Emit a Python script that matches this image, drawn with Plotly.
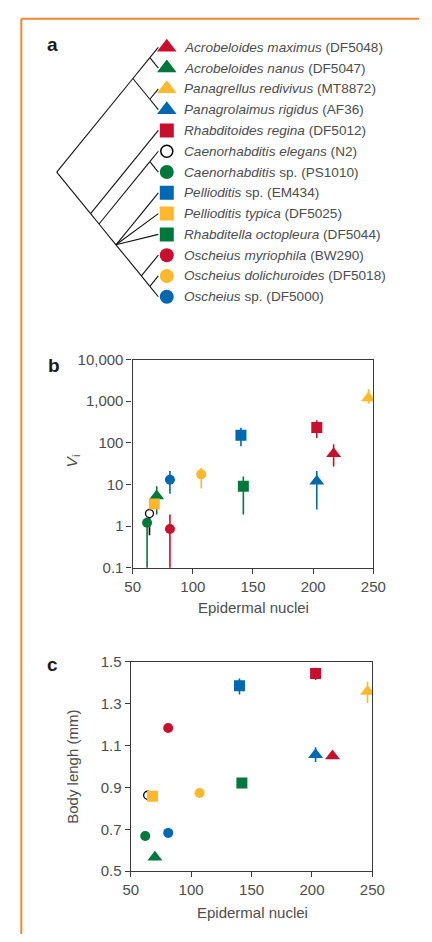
import plotly.graph_objects as go

# ---------------- data ----------------
names_italic = ["Acrobeloides maximus", "Acrobeloides nanus", "Panagrellus redivivus",
                "Panagrolaimus rigidus", "Rhabditoides regina", "Caenorhabditis elegans",
                "Caenorhabditis", "Pellioditis", "Pellioditis typica",
                "Rhabditella octopleura", "Oscheius myriophila", "Oscheius dolichuroides",
                "Oscheius"]
names_roman = ["", "", "", "", "", "", " sp.", " sp.", "", "", "", "", " sp."]
strains = ["DF5048", "DF5047", "MT8872", "AF36", "DF5012", "N2", "PS1010",
           "EM434", "DF5025", "DF5044", "BW290", "DF5018", "DF5000"]

# phylogeny (tip indices in the order listed above)
tree = (((0, 1), (2, 3)), (4, ((5, 6), (7, 8, 9, (10, (11, 12))))))

epidermal_nuclei = [217, 70, 246, 203, 203, 64, 62, 140, 68, 142, 81, 107, 81]

vi = [55, 5.3, 1200, 12, 235, 2.0, 1.2, 152, 3.4, 9, 0.85, 17.5, 13]
vi_hi = [93, 9.1, 1950, 21, 350, 2.6, 1.6, 230, 4.3, 15.5, 1.9, 25, 21]
vi_lo = [27, 1.9, 870, 2.5, 130, 0.6, 0.05, 83, 2.6, 1.9, 0.05, 8, 6]

body_length = [1.051, 0.566, 1.359, 1.057, 1.445, 0.863, 0.668, 1.387, 0.858,
               0.921, 1.184, 0.874, 0.683]
bl_hi = [1.060, 0.575, 1.406, 1.093, 1.472, 0.870, 0.675, 1.421, 0.878,
         0.930, 1.200, 0.882, 0.690]
bl_lo = [1.042, 0.557, 1.304, 1.022, 1.414, 0.856, 0.661, 1.345, 0.838,
         0.912, 1.168, 0.866, 0.676]

# ---------------- styles ----------------
RED, GREEN, YELLOW, BLUE = "#C8102E", "#00783C", "#FDB92B", "#0068B0"
colors = [RED, GREEN, YELLOW, BLUE, RED, "#000000", GREEN, BLUE, YELLOW, GREEN, RED, YELLOW, BLUE]
kinds = ["triangle", "triangle", "triangle", "triangle", "square", "open", "circle",
         "square", "square", "square", "circle", "circle", "circle"]
SYM = {"triangle": "triangle-up", "square": "square", "circle": "circle", "open": "circle"}
SIZE_A = {"triangle": 17, "square": 14, "circle": 14, "open": 12}
SIZE_B = {"triangle": 13, "square": 11, "circle": 10, "open": 8}

FONT = "Liberation Sans, Arial, Helvetica, sans-serif"
TXT = "#4d4d4d"
AXC = "#3a3a3a"
W, H = 432, 942


def px(x):   # page pixel -> paper x
    return x / W


def py(y):   # page pixel -> paper y
    return 1 - y / H


fig = go.Figure()

# ---------------- panel a: cladogram ----------------
edges_x, edges_y = [], []


def layout(node):
    if isinstance(node, int):
        return 0.0, float(node), node, node
    kids = [layout(c) for c in node]
    lo = min(k[2] for k in kids)
    hi = max(k[3] for k in kids)
    x, y = -(hi - lo) / 2.0, (hi + lo) / 2.0
    for cx, cy, _, _ in kids:
        edges_x.extend([x, cx, None])
        edges_y.extend([y, cy, None])
    return x, y, lo, hi


layout(tree)
n = len(names_italic)
tips = list(range(n))

fig.add_trace(go.Scatter(x=edges_x, y=edges_y, mode="lines",
                         line=dict(color="#111", width=1.1),
                         xaxis="x3", yaxis="y3", showlegend=False, hoverinfo="skip"))

fig.add_trace(go.Scatter(
    x=[0.5] * n, y=tips, mode="markers", xaxis="x3", yaxis="y3", showlegend=False,
    marker=dict(symbol=[SYM[k] for k in kinds], size=[SIZE_A[k] for k in kinds], opacity=1,
                color=["white" if k == "open" else c for k, c in zip(kinds, colors)],
                line=dict(color=["#000" if k == "open" else "rgba(0,0,0,0)" for k in kinds],
                          width=[1.5 if k == "open" else 0 for k in kinds]))))

annotations = []
for i in range(n):
    annotations.append(dict(
        x=1.4, y=i, xref="x3", yref="y3", xanchor="left", yanchor="middle",
        text="<i>%s</i>%s (%s)" % (names_italic[i], names_roman[i], strains[i]),
        showarrow=False, font=dict(family=FONT, size=13.6, color=TXT)))

# ---------------- panels b and c ----------------
for i in range(n):
    k = kinds[i]
    mk = dict(symbol=SYM[k], size=SIZE_B[k], opacity=1,
              color="white" if k == "open" else colors[i],
              line=dict(color="#000" if k == "open" else colors[i],
                        width=1.3 if k == "open" else 0))
    fig.add_trace(go.Scatter(
        x=[epidermal_nuclei[i]], y=[vi[i]], mode="markers", xaxis="x", yaxis="y",
        showlegend=False, marker=mk,
        error_y=dict(type="data", symmetric=False, array=[vi_hi[i] - vi[i]],
                     arrayminus=[vi[i] - vi_lo[i]], color=colors[i], thickness=1.6, width=0)))
    fig.add_trace(go.Scatter(
        x=[epidermal_nuclei[i]], y=[body_length[i]], mode="markers", xaxis="x2", yaxis="y2",
        showlegend=False, marker=mk,
        error_y=dict(type="data", symmetric=False, array=[bl_hi[i] - body_length[i]],
                     arrayminus=[body_length[i] - bl_lo[i]], color=colors[i],
                     thickness=1.6, width=0)))

ax_common = dict(showline=True, mirror=True, linecolor=AXC, linewidth=1.3, ticks="outside",
                 ticklen=5, tickwidth=1.3, tickcolor=AXC, showgrid=False, zeroline=False,
                 tickfont=dict(family=FONT, size=15, color=TXT))

xt = [50, 100, 150, 200, 250]
yb_vals = [0.1, 1, 10, 100, 1000, 10000]
yb_text = ["0.1", "1", "10", "100", "1,000", "10,000"]
yc_vals = [0.5, 0.7, 0.9, 1.1, 1.3, 1.5]

TIP_X, ROW0, ROW_H, UNIT = 158, 39, 21.17, 17.8   # cladogram geometry (page px)

fig.update_layout(
    width=W, height=H, margin=dict(l=0, r=0, t=0, b=0),
    paper_bgcolor="white", plot_bgcolor="white",
    font=dict(family=FONT, color=TXT),
    xaxis=dict(domain=[px(131), px(384)], range=[50, 250], tickvals=xt, anchor="y", **ax_common),
    yaxis=dict(domain=[py(569), py(357)], type="log", range=[-1, 4], tickvals=yb_vals,
               ticktext=yb_text, anchor="x", **ax_common),
    xaxis2=dict(domain=[px(129), px(383)], range=[50, 250], tickvals=xt, anchor="y2", **ax_common),
    yaxis2=dict(domain=[py(878), py(665)], range=[0.5, 1.5], tickvals=yc_vals,
                ticktext=["%.1f" % v for v in yc_vals], anchor="x2", **ax_common),
    xaxis3=dict(domain=[0, 1], range=[-TIP_X / UNIT, (W - TIP_X) / UNIT],
                visible=False, anchor="y3", fixedrange=True),
    yaxis3=dict(domain=[py(ROW0 + 13 * ROW_H), py(ROW0 - ROW_H)], range=[13, -1], visible=False,
                anchor="x3", fixedrange=True),
)


def label(x, y, text, size, color=TXT, angle=0):
    return dict(x=px(x), y=py(y), xref="paper", yref="paper", text=text, textangle=angle,
                xanchor="center", yanchor="middle", showarrow=False,
                font=dict(family=FONT, size=size, color=color))


annotations += [
    label(258, 610, "Epidermal nuclei", 15),
    label(257, 920, "Epidermal nuclei", 15),
    label(68, 460, "<i>V</i><sub>i</sub>", 15.5, angle=-90),
    label(67, 772, "Body lengh (mm)", 15, angle=-90),
    label(47, 36, "<b>a</b>", 19, "#1a1a1a"),
    label(48, 363, "<b>b</b>", 19, "#1a1a1a"),
    label(47, 668, "<b>c</b>", 19, "#1a1a1a"),
]
fig.update_layout(annotations=annotations)

FRAME = "#F0882F"
fig.update_layout(shapes=[
    dict(type="line", xref="paper", yref="paper", x0=px(14), x1=1, y0=py(10), y1=py(10),
         line=dict(color=FRAME, width=2)),
    dict(type="line", xref="paper", yref="paper", x0=px(14), x1=px(14), y0=py(10), y1=0,
         line=dict(color=FRAME, width=2)),
])

fig.write_html("out.html", config={"displayModeBar": False},
               post_script="document.body.style.margin='0';document.body.style.overflow='hidden';")
